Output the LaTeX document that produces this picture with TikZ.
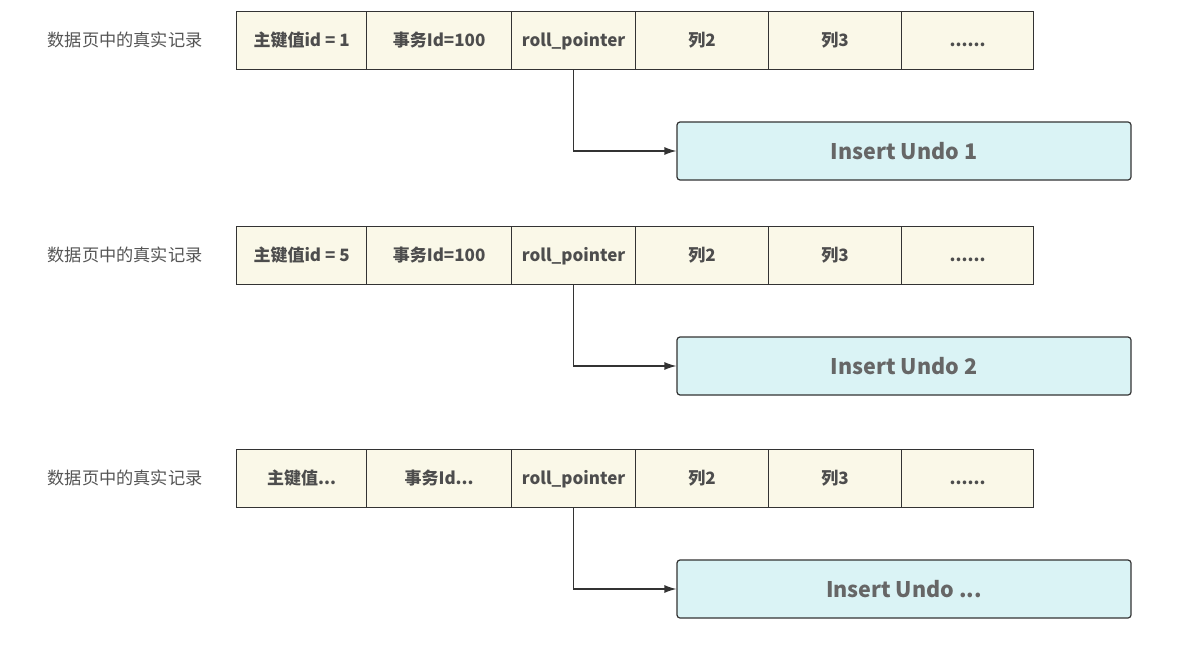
\documentclass[tikz,border=0pt]{standalone}
\usepackage{fontspec}
\setmainfont{Noto Sans CJK SC}
\usetikzlibrary{arrows.meta}
\definecolor{cellfill}{HTML}{FAF8E8}
\definecolor{undofill}{HTML}{DAF3F5}
\definecolor{edgec}{HTML}{333333}
\definecolor{txt}{HTML}{4D4D4D}
\definecolor{undotxt}{HTML}{666666}
\definecolor{lbltxt}{HTML}{555555}
\tikzset{
  cell/.style={draw=edgec, line width=1.2pt, fill=cellfill, minimum height=58pt, inner sep=0pt,
    text height=13pt, text depth=2pt,
    font=\bfseries\fontsize{17}{20}\selectfont, text=txt, anchor=north west},
  undo/.style={draw=edgec, line width=1.2pt, fill=undofill, rounded corners=3pt, minimum width=454pt,
    minimum height=58pt, inner sep=0pt, text height=17pt, text depth=0pt,
    font=\bfseries\fontsize{21.5}{25}\selectfont, text=undotxt},
  lbl/.style={font=\fontsize{17.2}{20}\selectfont, text=lbltxt, inner sep=0pt},
  conn/.style={draw=edgec, line width=1.2pt, -{Latex[length=12pt,width=8pt]}},
}
\begin{document}
\begin{tikzpicture}[x=1pt,y=-1pt]
\useasboundingbox (0,0) rectangle (1178,645);
% row 1
\node[lbl] (a0) at (125,40) {数据页中的真实记录};
\node[cell, minimum width=130pt] (a1) at (236,11) {主键值id = 1};
\node[cell, minimum width=145pt] (a2) at (366,11) {事务Id=100};
\node[cell, minimum width=124pt] (a3) at (511,11) {roll\_pointer};
\node[cell, minimum width=133pt] (a4) at (635,11) {列2};
\node[cell, minimum width=133pt] (a5) at (768,11) {列3};
\node[cell, minimum width=132pt] (a6) at (901,11) {......};
\node[undo] (ua) at (904,151) {Insert Undo 1};
\draw[conn] (a3.south) |- (ua.west);
% row 2
\node[lbl] (b0) at (125,255) {数据页中的真实记录};
\node[cell, minimum width=130pt] (b1) at (236,226) {主键值id = 5};
\node[cell, minimum width=145pt] (b2) at (366,226) {事务Id=100};
\node[cell, minimum width=124pt] (b3) at (511,226) {roll\_pointer};
\node[cell, minimum width=133pt] (b4) at (635,226) {列2};
\node[cell, minimum width=133pt] (b5) at (768,226) {列3};
\node[cell, minimum width=132pt] (b6) at (901,226) {......};
\node[undo] (ub) at (904,366) {Insert Undo 2};
\draw[conn] (b3.south) |- (ub.west);
% row 3
\node[lbl] (c0) at (125,478) {数据页中的真实记录};
\node[cell, minimum width=130pt] (c1) at (236,449) {主键值...};
\node[cell, minimum width=145pt] (c2) at (366,449) {事务Id...};
\node[cell, minimum width=124pt] (c3) at (511,449) {roll\_pointer};
\node[cell, minimum width=133pt] (c4) at (635,449) {列2};
\node[cell, minimum width=133pt] (c5) at (768,449) {列3};
\node[cell, minimum width=132pt] (c6) at (901,449) {......};
\node[undo] (uc) at (904,589) {Insert Undo ...};
\draw[conn] (c3.south) |- (uc.west);
\end{tikzpicture}
\end{document}
